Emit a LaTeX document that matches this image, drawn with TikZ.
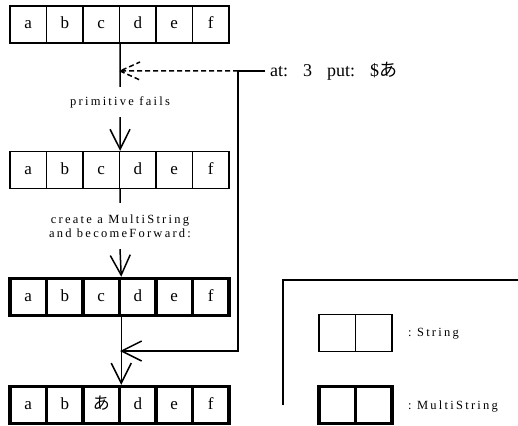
\documentclass[tikz,border=0pt]{standalone}
\usepackage{fontspec}
\setmainfont{Liberation Serif}
\newfontfamily\jp{Noto Sans CJK JP}
\newfontfamily\spaced[LetterSpace=18]{Liberation Serif}
\usetikzlibrary{arrows.meta}

\tikzset{
  cell/.style={draw, line width=1.2pt, minimum width=36.5pt, minimum height=37pt,
    inner sep=0pt, text height=12pt, text depth=3pt, font=\fontsize{17}{17}\selectfont},
  mcell/.style={cell, line width=3.5pt},
  remark/.style={font=\spaced\fontsize{12.5}{13.5}\selectfont, align=center, inner sep=0pt},
  flow/.style={line width=1.5pt, -{Straight Barb[length=20pt, width=20pt]}},
}

\begin{document}
\begin{tikzpicture}[x=1pt, y=-1pt]
  \useasboundingbox (0,0) rectangle (518,425);

  % the four strings, top to bottom
  \foreach \t [count=\i] in {a,b,c,d,e,f}
    \node[cell] (r1-\i) at ({10+36.5*(\i-0.5)},24.5) {\t};
  \foreach \t [count=\i] in {a,b,c,d,e,f}
    \node[cell] (r2-\i) at ({10+36.5*(\i-0.5)},170) {\t};
  \foreach \t [count=\i] in {a,b,c,d,e,f}
    \node[mcell] (r3-\i) at ({10+36.5*(\i-0.5)},297) {\t};
  \foreach \t [count=\i] in {a,b,{\jp あ},d,e,f}
    \node[mcell] (r4-\i) at ({10+36.5*(\i-0.5)},405) {\t};

  % notes between the steps
  \node[remark, minimum height=30pt] (fail) at (120,102) {primitive fails};
  \node[remark, minimum height=46pt] (fwd) at (120,226)
    {create a MultiString\\and becomeForward:};

  % message and its route
  \node[anchor=west, inner xsep=5pt, inner ysep=0pt, font=\fontsize{18}{18}\selectfont]
    (msg) at (265,71)
    {at:\hspace{15pt}3\hspace{15pt}put:\hspace{15pt}\$\jp あ};
  \coordinate (turn) at (238,71);
  \coordinate (hit) at (120,71);
  \coordinate (join) at (120,351);

  % arrows
  \draw[line width=1.5pt] (r1-3.south east) -- (fail.north);
  \draw[flow] (fail.south) -- (r2-3.north east);
  \draw[line width=1.5pt] (r2-3.south east) -- (fwd.north);
  \draw[flow] (fwd.south) -- (r3-3.north east);
  \draw[flow] (r3-3.south east) -- (r4-3.north east);
  \draw[flow] (msg.west) -- (turn) |- (join);
  \draw[line width=1.5pt, dash pattern=on 5pt off 3pt] (turn) -- (hit)
    -- +(20,-9) (hit) -- +(20,9);

  % legend
  \draw[line width=1.5pt] (283,405) -- (283,280) -- (518,280);
  \node[cell] (s1) at (337.25,333) {};
  \node[cell] (s2) at (373.75,333) {};
  \node[mcell] (m1) at (337.25,405) {};
  \node[mcell] (m2) at (373.75,405) {};
  \node[remark, anchor=west] (sname) at (408,334) {:\ String};
  \node[remark, anchor=west] (mname) at (408,407) {:\ MultiString};
\end{tikzpicture}
\end{document}
